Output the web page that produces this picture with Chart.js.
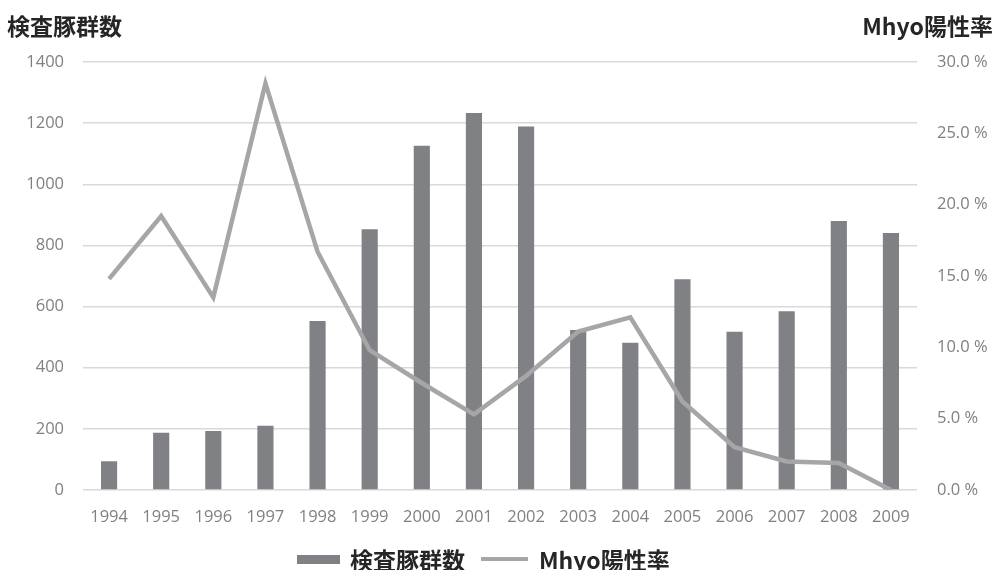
<!DOCTYPE html>
<html lang="ja">
<head>
<meta charset="utf-8">
<script src="https://cdn.jsdelivr.net/npm/chart.js@4/dist/chart.umd.min.js"></script>
<style>
  html, body { margin: 0; padding: 0; background: #fff; }
  #wrap { position: relative; width: 996px; height: 570px; overflow: hidden;
          font-family: "Noto Sans CJK JP", "Open Sans", sans-serif; }
  #chart { position: absolute; left: 0; top: 0; }
  .title { position: absolute; top: 8px; font-weight: bold; font-size: 23px; color: #262626; white-space: nowrap; }
  #titleL { left: 7px; }
  #titleR { right: 3px; }
  #legend { position: absolute; left: 297px; top: 542px; display: flex; align-items: center;
            font-weight: bold; font-size: 23px; color: #262626; white-space: nowrap; }
  .sw-bar { width: 43px; height: 9px; background: #808185; margin-right: 10px; }
  .sw-line { width: 47px; height: 4px; background: #a6a6a6; margin-left: 16px; margin-right: 11px; }
</style>
</head>
<body>
<div id="wrap">
  <canvas id="chart" width="996" height="570"></canvas>
  <div class="title" id="titleL">検査豚群数</div>
  <div class="title" id="titleR">Mhyo陽性率</div>
  <div id="legend">
    <span class="sw-bar"></span><span>検査豚群数</span>
    <span class="sw-line"></span><span>Mhyo陽性率</span>
  </div>
</div>
<script>
// Years examined
const years = ['1994','1995','1996','1997','1998','1999','2000','2001','2002','2003','2004','2005','2006','2007','2008','2009'];
// Number of herds examined (left axis)
const herdCounts = [94, 187, 193, 210, 553, 853, 1126, 1233, 1189, 523, 482, 689, 518, 585, 880, 841];
// Mhyo positive rate in percent (right axis)
const positiveRate = [14.8, 19.2, 13.5, 28.5, 16.7, 9.8, 7.5, 5.3, 8.0, 11.1, 12.1, 6.2, 3.0, 2.0, 1.9, 0.0];
// Axis ranges
const herdAxis = { min: 0, max: 1400, step: 200 };
const rateAxis = { min: 0, max: 30, step: 5 };

const tickFont = { family: '"Open Sans", sans-serif', size: 16.5 };
const tickColor = '#808080';

new Chart(document.getElementById('chart'), {
  data: {
    labels: years,
    datasets: [
      {
        type: 'line',
        label: 'Mhyo陽性率',
        data: positiveRate,
        yAxisID: 'y1',
        borderColor: '#a6a6a8',
        backgroundColor: '#a6a6a8',
        borderWidth: 4.5,
        pointRadius: 0,
        tension: 0,
        order: 0
      },
      {
        type: 'bar',
        label: '検査豚群数',
        data: herdCounts,
        yAxisID: 'y',
        backgroundColor: '#808185',
        categoryPercentage: 1,
        barPercentage: 0.31,
        order: 1
      }
    ]
  },
  options: {
    responsive: false,
    animation: false,
    layout: { padding: { top: 62, left: 0, right: 0, bottom: 0 } },
    plugins: { legend: { display: false }, tooltip: { enabled: false } },
    scales: {
      x: {
        grid: { display: false, drawTicks: false },
        border: { display: false },
        ticks: { font: tickFont, color: tickColor, padding: 17, maxRotation: 0 },
        afterFit(scale) { scale.height = 80; }
      },
      y: {
        position: 'left',
        min: herdAxis.min, max: herdAxis.max,
        grid: { color: '#d9d9d9', lineWidth: 1.5, drawTicks: false },
        border: { display: false },
        ticks: { stepSize: herdAxis.step, font: tickFont, color: tickColor, padding: 19,
                 callback: v => String(v) },
        afterFit(scale) { scale.width = 83; }
      },
      y1: {
        position: 'right',
        min: rateAxis.min, max: rateAxis.max,
        grid: { display: false, drawTicks: false },
        border: { display: false },
        ticks: {
          stepSize: rateAxis.step, font: tickFont, color: tickColor, padding: 20,
          callback: v => v.toFixed(1) + ' %'
        },
        afterFit(scale) { scale.width = 79; }
      }
    }
  }
});
</script>
</body>
</html>
